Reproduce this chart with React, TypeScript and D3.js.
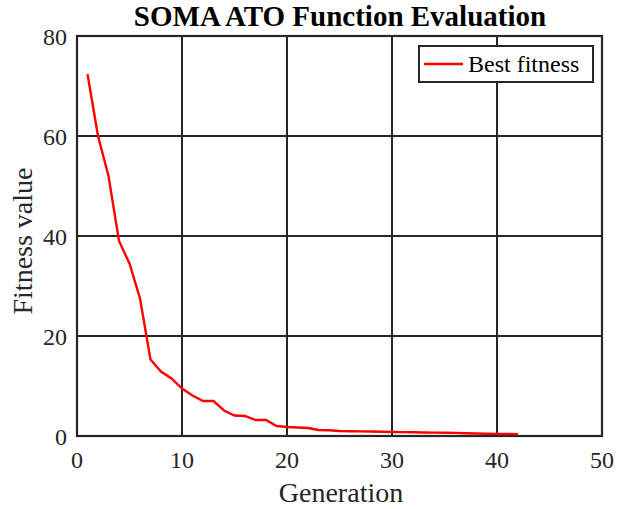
import React from "react";
import * as d3 from "d3";

const generations: number[] = Array.from({ length: 42 }, (_, i) => i + 1);
const bestFitness: number[] = [
  72.4, 60, 52, 39, 34.5, 27.5, 15.3, 12.9, 11.5, 9.5,
  8.1, 7.0, 7.0, 5.1, 4.1, 4.0, 3.2, 3.2, 2.0, 1.8,
  1.7, 1.6, 1.2, 1.15, 1.0, 0.95, 0.93, 0.9, 0.85, 0.8,
  0.78, 0.75, 0.7, 0.68, 0.65, 0.62, 0.55, 0.5, 0.45, 0.42,
  0.4, 0.38,
];
const xTicks: number[] = [0, 10, 20, 30, 40, 50];
const yTicks: number[] = [0, 20, 40, 60, 80];
const title = "SOMA ATO Function Evaluation";
const xLabel = "Generation";
const yLabel = "Fitness value";
const legendLabel = "Best fitness";

export default function App() {
  const W = 619, H = 509;
  const left = 77, right = 602, top = 36, bottom = 436;
  const x = d3.scaleLinear().domain([0, 50]).range([left, right]);
  const y = d3.scaleLinear().domain([0, 80]).range([bottom, top]);
  const line = d3
    .line<number>()
    .x((_, i) => x(generations[i]))
    .y((d) => y(d));
  const font = "'Liberation Serif', 'Times New Roman', serif";
  const gridColor = "#262626";
  return (
    <svg
      width={W}
      height={H}
      style={{ position: "absolute", left: 0, top: 0, background: "#fff" }}
      fontFamily={font}
    >
      <rect x={0} y={0} width={W} height={H} fill="#fff" />
      {xTicks.map((t) => (
        <line key={"gx" + t} x1={x(t)} x2={x(t)} y1={top} y2={bottom} stroke={gridColor} strokeWidth={2} />
      ))}
      {yTicks.map((t) => (
        <line key={"gy" + t} x1={left} x2={right} y1={y(t)} y2={y(t)} stroke={gridColor} strokeWidth={2} />
      ))}
      <rect x={left} y={top} width={right - left} height={bottom - top} fill="none" stroke={gridColor} strokeWidth={2.2} />
      <path d={line(bestFitness) || ""} fill="none" stroke="#ff0000" strokeWidth={2.4} />
      {xTicks.map((t) => (
        <text key={"tx" + t} x={x(t)} y={468} textAnchor="middle" fontSize={24} fill="#262626">
          {t}
        </text>
      ))}
      {yTicks.map((t) => (
        <text key={"ty" + t} x={left - 10} y={y(t) + 9} textAnchor="end" fontSize={24} fill="#262626">
          {t}
        </text>
      ))}
      <text x={341} y={502} textAnchor="middle" fontSize={28} fill="#262626">
        {xLabel}
      </text>
      <text
        transform={`translate(32, 241) rotate(-90)`}
        textAnchor="middle"
        fontSize={28}
        fill="#262626"
      >
        {yLabel}
      </text>
      <text x={340} y={26} textAnchor="middle" fontSize={29} fontWeight="bold" fill="#000">
        {title}
      </text>
      <g>
        <rect x={419} y={46} width={174} height={36} fill="#fff" stroke={gridColor} strokeWidth={2} />
        <line x1={424} x2={463} y1={64} y2={64} stroke="#ff0000" strokeWidth={2.4} />
        <text x={468} y={72} fontSize={24} fill="#000">
          {legendLabel}
        </text>
      </g>
    </svg>
  );
}
